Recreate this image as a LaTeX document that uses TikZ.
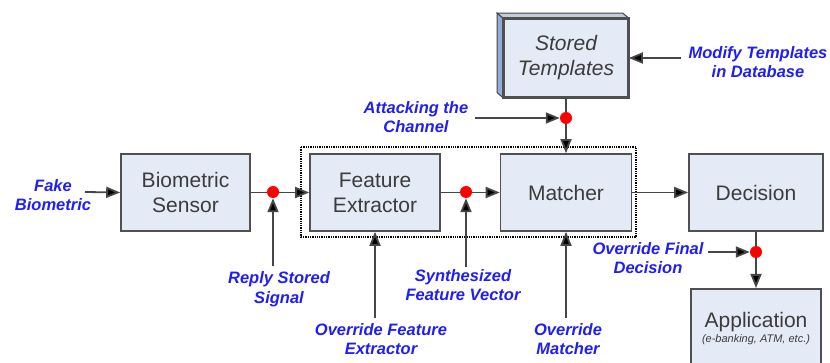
\documentclass[tikz,border=0pt]{standalone}
\usepackage{fontspec}
\setmainfont{Liberation Sans}
\usetikzlibrary{arrows.meta,calc}
\definecolor{boxfill}{RGB}{228,234,246}
\definecolor{boxline}{RGB}{80,80,80}
\definecolor{boxtext}{RGB}{60,60,60}
\definecolor{attack}{RGB}{30,30,245}
\definecolor{wire}{RGB}{70,70,70}
\definecolor{sidefill}{RGB}{150,172,214}
\definecolor{topfill}{RGB}{196,204,220}
\pgfdeclarelayer{fg}
\pgfsetlayers{main,fg}
\tikzset{
  block/.style={draw=boxline, line width=1.6pt, fill=boxfill, text=boxtext,
    font=\fontsize{21}{25}\selectfont, align=center, inner sep=0pt},
  attacklabel/.style={text=attack, font=\fontsize{16.5}{19.5}\selectfont\bfseries\itshape,
    align=center, inner sep=0pt},
  flow/.style={draw=wire, line width=1.8pt, -{Triangle[length=14pt,width=11pt,fill=black]}},
  tap/.style={circle, fill=red, minimum size=12pt, inner sep=0pt},
}
\begin{document}
\begin{tikzpicture}[x=1pt,y=-1pt]
\useasboundingbox (0,0) rectangle (830,363);
\clip (0,0) rectangle (830,363);

% processing chain
\node[block, minimum width=129pt, minimum height=77pt] (sensor) at (185.5,192.5) {Biometric\\Sensor};
\node[block, minimum width=130pt, minimum height=77pt] (extractor) at (375,192.5) {Feature\\Extractor};
\node[block, minimum width=131pt, minimum height=77pt] (matcher) at (566,192.5) {Matcher};
\node[block, minimum width=134pt, minimum height=77pt] (decision) at (756,192.5) {Decision};
\node[block, minimum width=130pt, minimum height=80pt, anchor=north] (application) at (756,288)
  {Application\\[-10pt]{\fontsize{11}{12}\selectfont\itshape (e-banking, ATM, etc.)}};

% template database drawn as a raised block
\node[block, minimum width=124pt, minimum height=78pt, font=\fontsize{21}{25}\selectfont\itshape] (store) at (566,58) {Stored\\Templates};
\filldraw[fill=sidefill, draw=wire, line width=1pt]
  ($(store.north west)+(-6,-5)$) -- (store.north west) -- (store.south west) -- ($(store.south west)+(-6,-5)$) -- cycle;
\filldraw[fill=topfill, draw=wire, line width=1pt]
  ($(store.north west)+(-6,-5)$) -- ($(store.north east)+(-6,-5)$) -- (store.north east) -- (store.north west) -- cycle;
\draw[boxline, line width=1.6pt] (store.north west) rectangle (store.south east);

% feature extractor and matcher group
\draw[black, densely dotted, line width=1.3pt] (301,147) rectangle (636,237);

% attack points
\begin{pgfonlayer}{fg}
\node[tap] (t1) at (273,192) {};
\node[tap] (t2) at (466,192) {};
\node[tap] (t3) at (566,118) {};
\node[tap] (t4) at (756,252) {};
\end{pgfonlayer}

% attack labels
\node[attacklabel] (fake) at (53,195) {Fake\\Biometric};
\node[attacklabel] (modify) at (758,62) {Modify Templates\\in Database};
\node[attacklabel] (channel) at (416,117) {Attacking the\\Channel};
\node[attacklabel] (reply) at (279,289) {Reply Stored\\Signal};
\node[attacklabel] (synth) at (463,285) {Synthesized\\Feature Vector};
\node[attacklabel] (ofe) at (381,339) {Override Feature\\Extractor};
\node[attacklabel] (om) at (568,339) {Override\\Matcher};
\node[attacklabel] (ofd) at (648,258) {Override Final\\Decision};

% feet of the attack arrows
\coordinate (fakefoot) at (85,192);
\coordinate (modfoot) at (681,58);
\coordinate (chanfoot) at (475,118);
\coordinate (replyfoot) at (273,266);
\coordinate (synthfoot) at (466,267);
\coordinate (ofefoot) at (375,318);
\coordinate (omfoot) at (566,318);
\coordinate (ofdfoot) at (708,252);

% main data flow
\draw[flow] (sensor) -- (extractor);
\draw[flow] (extractor) -- (matcher);
\draw[flow] (matcher) -- (decision);
\draw[flow] (store.south) -- (matcher.north);
\draw[flow] (decision.south) -- (application.north);

% attack arrows
\draw[flow] (fakefoot) -- (sensor.west);
\draw[flow] (modfoot) -- (store.east);
\draw[flow] (chanfoot) -- (t3.west);
\draw[flow] (replyfoot) -- (t1.south);
\draw[flow] (synthfoot) -- (t2.south);
\draw[flow] (ofefoot) -- (extractor.south);
\draw[flow] (omfoot) -- (matcher.south);
\draw[flow] (ofdfoot) -- (t4.west);
\end{tikzpicture}
\end{document}
